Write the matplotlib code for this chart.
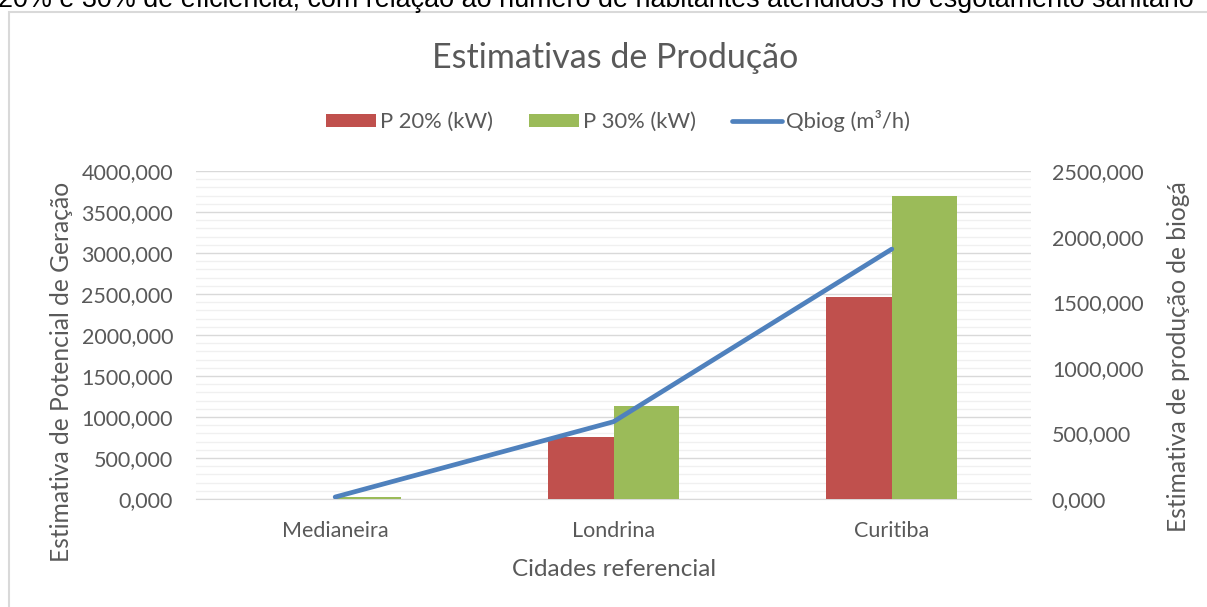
import matplotlib
matplotlib.use("Agg")
import matplotlib.pyplot as plt
from matplotlib.ticker import FuncFormatter, MultipleLocator
from matplotlib.patches import Rectangle
import numpy as np

cities = ["Medianeira", "Londrina", "Curitiba"]
p20 = [4, 756, 2463]
p30 = [22, 1134, 3699]
qbiog = [15, 589, 1905]
left_ticks = [0, 500, 1000, 1500, 2000, 2500, 3000, 3500, 4000]
right_ticks = [0, 500, 1000, 1500, 2000, 2500]

FONT = "Lato"
GREY = "#595959"
RED = "#C0504D"
GREEN = "#9BBB59"
BLUE = "#4F81BD"

W, H = 1207, 607
fig = plt.figure(figsize=(W / 100, H / 100), dpi=100)

def fx(px):
    return px / W

def fy(py):
    return 1 - py / H

# Clipped caption at the top
fig.text(fx(-2), fy(7), "20% e 30% de eficiência, com relação ao número de habitantes atendidos no esgotamento sanitário",
         fontsize=19.4, family="Liberation Sans", color="black", ha="left", va="baseline")

# Chart frame
fig.patches.append(Rectangle((fx(8.5), fy(620)), fx(1300), (620 - 12.5) / H, transform=fig.transFigure,
                             fill=False, edgecolor="#d9d9d9", lw=1.5))

ax = fig.add_axes([fx(196), fy(499), fx(1031) - fx(196), (499 - 171) / H])
x = np.arange(len(cities))
bw = 0.235
ax.bar(x - bw / 2, p20, bw, color=RED, label="P 20% (kW)", zorder=3)
ax.bar(x + bw / 2, p30, bw, color=GREEN, label="P 30% (kW)", zorder=3)
ax.set_xlim(-0.5, 2.5)
ax.set_ylim(0, 4000)
ax.set_yticks(left_ticks)
ax.yaxis.set_minor_locator(MultipleLocator(100))
fmt = FuncFormatter(lambda v, p: f"{v:.3f}".replace(".", ","))
ax.yaxis.set_major_formatter(fmt)
ax.grid(True, which="major", axis="y", color="#d9d9d9", lw=1.0, zorder=0)
ax.grid(True, which="minor", axis="y", color="#f0f0f0", lw=1.0, zorder=0)
ax.set_xticks(x)
ax.set_xticklabels(cities)
for s in ["top", "right", "left"]:
    ax.spines[s].set_visible(False)
ax.spines["bottom"].set_color("#d9d9d9")
ax.tick_params(axis="both", which="both", length=0)
ax.tick_params(axis="y", pad=16.5, labelsize=15.5, labelcolor=GREY)
ax.tick_params(axis="x", pad=16, labelsize=15.5, labelcolor=GREY)
for lab in ax.get_xticklabels() + ax.get_yticklabels():
    lab.set_family(FONT)

ax2 = ax.twinx()
ax2.plot(x, qbiog, color=BLUE, lw=3.4, label="Qbiog (m³/h)", solid_capstyle="round", zorder=4)
ax2.set_ylim(0, 2500)
ax2.set_yticks(right_ticks)
ax2.yaxis.set_major_formatter(fmt)
for s in ["top", "right", "left", "bottom"]:
    ax2.spines[s].set_visible(False)
ax2.tick_params(axis="y", length=0, pad=15, labelsize=15.5, labelcolor=GREY)
for lab in ax2.get_yticklabels():
    lab.set_family(FONT)

fig.text(fx(614), fy(570), "Cidades referencial", fontsize=17.5, family=FONT,
         color=GREY, ha="center", va="center")
fig.text(fx(62), fy(372), "Estimativa de Potencial de Geração", fontsize=17.7, family=FONT,
         color=GREY, rotation=90, ha="center", va="center")
fig.text(fx(1178), fy(532), "Estimativa de produção de biogá", fontsize=17.7, family=FONT,
         color=GREY, rotation=90, ha="center", va="bottom")
fig.text(fx(615), fy(58), "Estimativas de Produção", fontsize=24.5, family=FONT,
         color=GREY, ha="center", va="center")

h1, l1 = ax.get_legend_handles_labels()
h2, l2 = ax2.get_legend_handles_labels()
leg = fig.legend(h1 + h2, l1 + l2, loc="center", bbox_to_anchor=(fx(618), fy(121)), ncol=3,
                 frameon=False, handlelength=2.3, handleheight=0.55, handletextpad=0.2, columnspacing=1.6,
                 prop={"family": FONT, "size": 15.8})
for t in leg.get_texts():
    t.set_color(GREY)

fig.savefig("out.png", dpi=100, facecolor="white")
